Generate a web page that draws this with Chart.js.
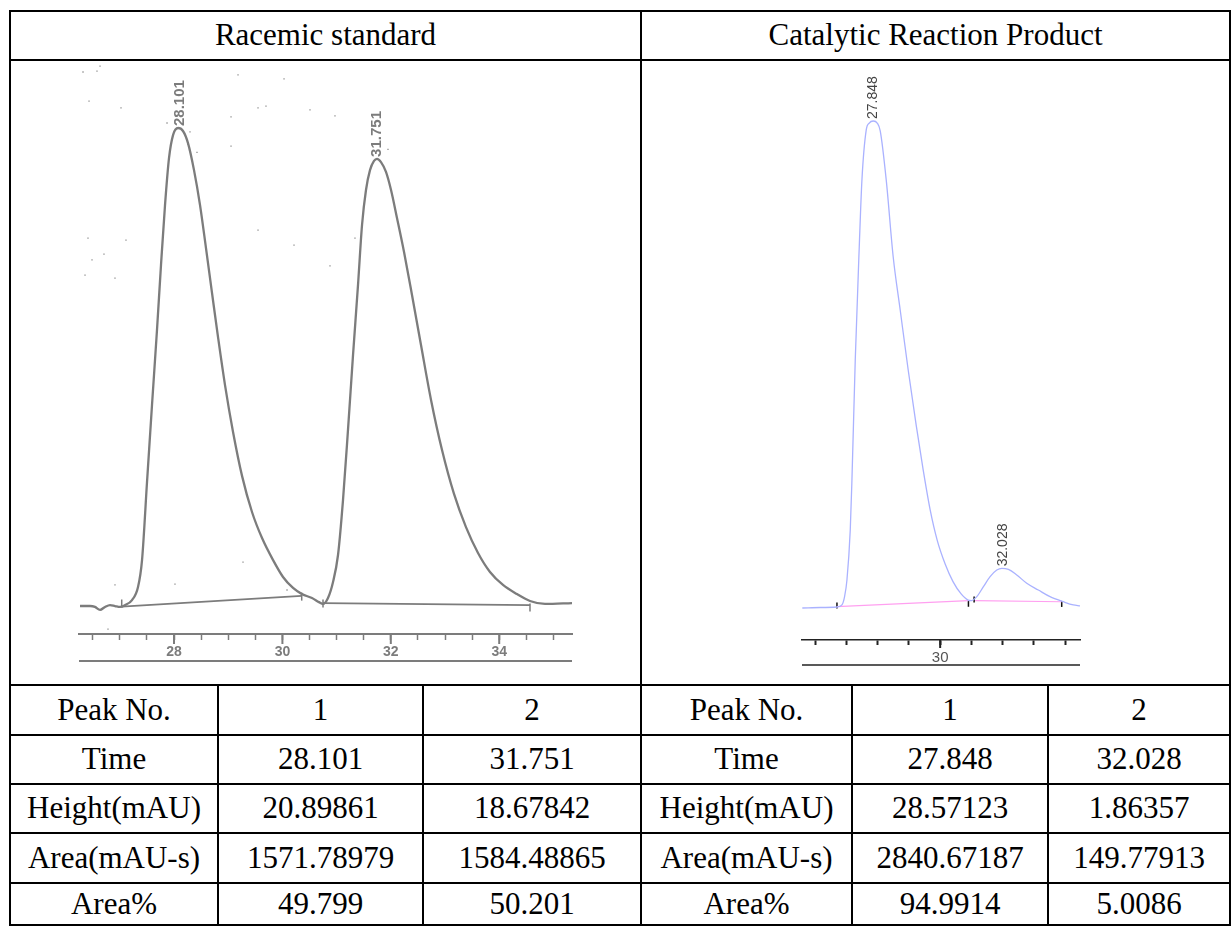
<!DOCTYPE html>
<html>
<head>
<meta charset="utf-8">
<script src="https://cdn.jsdelivr.net/npm/chart.js@4.4.1/dist/chart.umd.min.js"></script>
<style>
html,body{margin:0;padding:0;background:#fff;}
body{width:1231px;height:926px;overflow:hidden;position:relative;}
table{position:absolute;left:9px;top:10px;width:1222px;table-layout:fixed;border-collapse:separate;border-spacing:0;
  border-left:2px solid #000;border-top:2px solid #000;font-family:"Liberation Serif","Times New Roman",serif;font-size:31px;color:#000;}
td{box-sizing:border-box;border-right:2px solid #000;border-bottom:2px solid #000;padding:0;text-align:center;vertical-align:middle;white-space:nowrap;overflow:hidden;line-height:1.1;}
canvas{position:absolute;}
</style>
</head>
<body>
<table id="tbl">
<colgroup><col style="width:208px"><col style="width:205px"><col style="width:218px"><col style="width:211px"><col style="width:196px"><col style="width:182px"></colgroup>
<tbody id="tb"></tbody>
</table>
<canvas id="c1" width="629" height="623" style="left:11px;top:61px;width:629px;height:623px"></canvas>
<canvas id="c2" width="587" height="623" style="left:642px;top:61px;width:587px;height:623px"></canvas>
<script>
// ---------- table data ----------
const panelTitles = ['Racemic standard', 'Catalytic Reaction Product'];
const rowNames = ['Peak No.', 'Time', 'Height(mAU)', 'Area(mAU-s)', 'Area%'];
const peakNo = ['1', '2'];
const racemicTime = ['28.101', '31.751'];
const racemicHeight = ['20.89861', '18.67842'];
const racemicArea = ['1571.78979', '1584.48865'];
const racemicAreaPct = ['49.799', '50.201'];
const productTime = ['27.848', '32.028'];
const productHeight = ['28.57123', '1.86357'];
const productArea = ['2840.67187', '149.77913'];
const productAreaPct = ['94.9914', '5.0086'];

// ---------- chromatogram data (time in min, signal in mAU) ----------
const leftTime = [26.266,26.450,26.542,26.635,26.727,26.819,26.911,27.004,27.096,27.225,27.336,27.410,27.502,27.594,27.686,27.760,27.834,27.908,27.982,28.074,28.166,28.258,28.369,28.480,28.590,28.701,28.812,28.941,29.089,29.255,29.439,29.624,29.827,30.011,30.196,30.362,30.546,30.675,30.749,30.841,30.934,31.026,31.118,31.210,31.303,31.395,31.469,31.542,31.616,31.690,31.745,31.819,31.911,32.004,32.114,32.244,32.391,32.557,32.742,32.945,33.166,33.387,33.609,33.830,34.070,34.328,34.568,34.845,35.343];
const leftSignal = [0,0,-0.04,-0.17,-0.04,0.04,0,-0.04,0.04,0.26,0.83,2.01,5.42,8.79,12.07,14.91,17.53,19.59,20.59,20.90,20.77,20.24,19.06,17.53,15.65,13.69,11.76,9.66,7.61,5.69,4.11,2.97,2.01,1.27,0.79,0.52,0.35,0.17,0.09,0.35,1.05,2.23,4.63,7.70,10.98,14.04,16.66,18.19,19.06,19.46,19.55,19.41,18.98,18.19,16.97,15.48,13.60,11.41,9.01,6.82,4.90,3.45,2.32,1.49,0.92,0.52,0.22,0.09,0.13];
const leftBaseTime = [27.035, 30.356, 30.55, 30.749, 34.568];
const leftBaseSignal = [-0.03, 0.44, null, 0.13, 0.04];
const leftMarkTime = [27.035, 30.356, 30.749, 34.568];
const leftMarkSignal = [0.11, 0.41, 0.11, -0.07];
const leftSpeckTime = [26.395,26.321,26.579,26.635,26.911,26.432,27.022,29.181,30.030,30.269,29.550,29.697,30.509,30.970,29.052,29.052,26.413,27.114,26.708,26.487,26.358,26.911,29.550,30.214,30.878,31.339,31.948,28.424,28.258,27.871,28.295,26.911,28.018,29.273,30.085,31.155,26.506,26.782,26.690,26.948,27.133,27.557,35.251];
const leftSpeckSignal = [23.74,23.35,23.39,23.61,23.70,22.08,21.78,23.22,23.05,23.79,21.78,21.86,21.69,21.43,21.39,20.11,16.09,16.00,15.39,15.13,14.47,14.34,16.44,15.78,14.87,16.09,19.97,19.84,20.19,21.12,20.73,0.92,0.96,1.92,0.70,-1.92,-1.57,-1.01,-2.49,-2.45,-2.45,-2.45,-2.93];
const leftPeakTimes = [28.101, 31.751];
const leftPeakLabels = ['28.101', '31.751'];
const leftTickLabels = [28, 30, 32, 34];

const rightTime = [25.584,26.16,26.704,26.854,26.938,27.014,27.12,27.174,27.28,27.408,27.494,27.632,27.728,27.856,27.984,28.08,28.272,28.496,28.72,28.976,29.232,29.456,29.68,29.904,30.16,30.416,30.672,30.896,31.008,31.174,31.386,31.6,31.814,31.974,32.186,32.454,32.774,33.146,33.52,33.946,34.266,34.48];
const rightSignal = [-0.03,0,0.03,0.15,0.64,1.62,4.57,7.53,14.61,21.28,25.24,28.19,28.60,28.72,28.60,28.13,25.24,20.69,17.56,14.02,10.77,8.12,5.76,3.98,2.57,1.51,0.80,0.44,0.41,0.64,1.23,1.82,2.21,2.31,2.25,1.92,1.43,1.03,0.64,0.34,0.15,0.09];
const rightBaseTime = [26.694, 30.906, 31.0, 31.12, 33.894];
const rightBaseSignal = [0.05, 0.40, null, 0.40, 0.34];
const rightMarkTime = [26.694, 30.906, 31.088, 33.894];
const rightMarkSignal = [0.12, 0.22, 0.47, 0.21];
const rightPeakTimes = [27.848, 32.028];
const rightPeakLabels = ['27.848', '32.028'];
const rightTickLabels = [30];

// ---------- build table ----------
const tb = document.getElementById('tb');
function addRow(cells, h) {
  const tr = document.createElement('tr');
  cells.forEach(c => {
    const td = document.createElement('td');
    td.textContent = c.text;
    if (c.span) td.colSpan = c.span;
    td.style.height = h + 'px';
    tr.appendChild(td);
  });
  tb.appendChild(tr);
}
addRow([{text: panelTitles[0], span: 3}, {text: panelTitles[1], span: 3}], 49);
addRow([{text: '', span: 3}, {text: '', span: 3}], 625);
const leftCols = [peakNo, racemicTime, racemicHeight, racemicArea, racemicAreaPct];
const rightCols = [peakNo, productTime, productHeight, productArea, productAreaPct];
const rowH = [50, 49, 49, 50, 42];
rowNames.forEach((n, i) => {
  addRow([{text: n}, {text: leftCols[i][0]}, {text: leftCols[i][1]},
          {text: n}, {text: rightCols[i][0]}, {text: rightCols[i][1]}], rowH[i]);
});

// ---------- plugins ----------
const peakLabelPlugin = {
  id: 'peakLabels',
  afterDatasetsDraw(chart, args, opts) {
    const {ctx} = chart; const x = chart.scales.x, y = chart.scales.y;
    const pts = chart.data.datasets[0].data;
    ctx.save();
    ctx.font = opts.font; ctx.fillStyle = opts.color;
    ctx.textAlign = 'left'; ctx.textBaseline = 'middle';
    opts.times.forEach((t, i) => {
      let best = null;
      pts.forEach(p => { if (Math.abs(p.x - t) < 0.35 && (!best || p.y > best.y)) best = p; });
      const px = x.getPixelForValue(t);
      const py = y.getPixelForValue(best.y) - opts.gap;
      ctx.save(); ctx.translate(px, py); ctx.rotate(-Math.PI / 2);
      ctx.fillText(opts.labels[i], 0, 0); ctx.restore();
    });
    ctx.restore();
  }
};
const bottomRulePlugin = {
  id: 'bottomRule',
  afterDraw(chart, args, opts) {
    const s = chart.scales.x; const ctx = chart.ctx;
    ctx.save(); ctx.strokeStyle = opts.color; ctx.lineWidth = opts.width;
    ctx.beginPath(); ctx.moveTo(s.left, s.bottom); ctx.lineTo(s.right, s.bottom); ctx.stroke();
    // longer marks for the labelled (major) ticks
    ctx.lineWidth = opts.majorWidth;
    opts.majors.forEach(v => {
      const px = s.getPixelForValue(v);
      ctx.beginPath(); ctx.moveTo(px, s.top); ctx.lineTo(px, s.top + opts.majorLength); ctx.stroke();
    });
    ctx.restore();
  }
};

function pts(xs, ys) { return xs.map((t, i) => ({x: t, y: ys[i]})); }

function makeChart(id, cfg) {
  const datasets = [
    {data: pts(cfg.time, cfg.signal), borderColor: cfg.lineColor, borderWidth: cfg.lineWidth,
     pointRadius: 0, cubicInterpolationMode: 'monotone', fill: false},
    {data: pts(cfg.baseTime, cfg.baseSignal), borderColor: cfg.baseColor, borderWidth: cfg.baseWidth,
     pointRadius: 0, spanGaps: false, fill: false},
    {data: pts(cfg.markTime, cfg.markSignal), showLine: false, pointStyle: 'line', rotation: 90,
     pointRadius: cfg.markSize, pointBorderColor: cfg.markColor, pointBorderWidth: 1.5, borderColor: cfg.markColor}
  ];
  if (cfg.speckTime) {
    datasets.push({data: pts(cfg.speckTime, cfg.speckSignal), showLine: false, pointStyle: 'rect',
      pointRadius: 0.9, pointBorderWidth: 0, pointBackgroundColor: '#8c8c8c', clip: false});
  }
  return new Chart(document.getElementById(id), {
    type: 'line',
    data: {datasets},
    options: {
      responsive: false, animation: false, events: [],
      layout: {padding: cfg.padding},
      plugins: {
        legend: {display: false}, tooltip: {enabled: false},
        peakLabels: {times: cfg.peakTimes, labels: cfg.peakLabels, font: cfg.peakFont, color: cfg.peakColor, gap: cfg.peakGap},
        bottomRule: {color: cfg.axisColor, width: cfg.axisWidth, majors: cfg.tickLabels, majorLength: cfg.majorLength, majorWidth: cfg.majorTickWidth}
      },
      scales: {
        x: {
          type: 'linear', min: cfg.xMin, max: cfg.xMax,
          afterFit: s => { s.height = cfg.axisHeight; },
          grid: {display: true, drawOnChartArea: false, drawTicks: true, tickLength: cfg.tickLength,
                 tickColor: cfg.axisColor, tickWidth: cfg.minorTickWidth},
          border: {display: true, color: cfg.axisColor, width: cfg.axisWidth},
          ticks: {stepSize: cfg.step, autoSkip: false, maxRotation: 0, minRotation: 0, includeBounds: false,
                  padding: cfg.tickPad, color: cfg.tickColor, font: cfg.tickFont,
                  callback: v => { const m = cfg.tickLabels.find(l => Math.abs(l - v) < 1e-6); return m === undefined ? '' : String(m); }}
        },
        y: {display: false, min: cfg.yMin, max: cfg.yMax}
      }
    },
    plugins: [peakLabelPlugin, bottomRulePlugin]
  });
}

makeChart('c1', {
  time: leftTime, signal: leftSignal, lineColor: '#7c7c7c', lineWidth: 2.3,
  baseTime: leftBaseTime, baseSignal: leftBaseSignal, baseColor: '#7c7c7c', baseWidth: 1.8,
  markTime: leftMarkTime, markSignal: leftMarkSignal, markColor: '#7c7c7c', markSize: 4,
  speckTime: leftSpeckTime, speckSignal: leftSpeckSignal,
  padding: {left: 68, right: 68, top: 9, bottom: 23},
  peakTimes: leftPeakTimes, peakLabels: leftPeakLabels, peakFont: 'bold 15px "Liberation Sans", Arial, sans-serif', peakColor: '#7c7c7c', peakGap: 2,
  axisColor: '#7c7c7c', axisWidth: 2, axisHeight: 27, tickLength: 6, majorLength: 10, majorTickWidth: 2, minorTickWidth: 1.5,
  xMin: 26.247, xMax: 35.343, step: 0.5, tickLabels: leftTickLabels, tickPad: 4, tickColor: '#7c7c7c',
  tickFont: {family: '"Liberation Sans", Arial, sans-serif', size: 14, weight: 'bold'},
  yMin: -1.224, yMax: 23.437
});

makeChart('c2', {
  time: rightTime, signal: rightSignal, lineColor: '#aab2ff', lineWidth: 1.3,
  baseTime: rightBaseTime, baseSignal: rightBaseSignal, baseColor: '#ffa0f0', baseWidth: 1.2,
  markTime: rightMarkTime, markSignal: rightMarkSignal, markColor: '#111', markSize: 3,
  padding: {left: 160, right: 149, top: 9, bottom: 19},
  peakTimes: rightPeakTimes, peakLabels: rightPeakLabels, peakFont: '14px "Liberation Sans", Arial, sans-serif', peakColor: '#444', peakGap: 2,
  axisColor: '#222', axisWidth: 1.5, axisHeight: 25, tickLength: 5, majorLength: 8, majorTickWidth: 2, minorTickWidth: 2,
  xMin: 25.574, xMax: 34.48, step: 1, tickLabels: rightTickLabels, tickPad: 4, tickColor: '#555',
  tickFont: {family: '"Liberation Sans", Arial, sans-serif', size: 15},
  yMin: -1.919, yMax: 31.73
});
</script>
</body>
</html>
